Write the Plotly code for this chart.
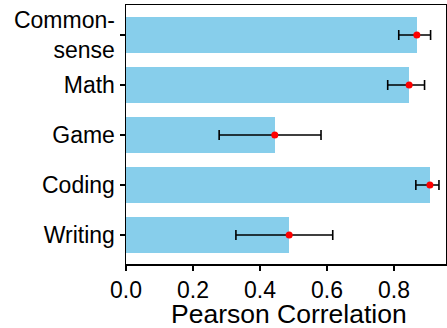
import plotly.graph_objects as go

categories = ["Common-<br>sense", "Math", "Game", "Coding", "Writing"]
values = [0.868, 0.845, 0.444, 0.907, 0.487]
err_low = [0.814, 0.781, 0.278, 0.865, 0.328]
err_high = [0.909, 0.891, 0.582, 0.934, 0.617]
x_ticks = [0.0, 0.2, 0.4, 0.6, 0.8]
x_title = "Pearson Correlation"

ypos = [len(categories) - 1 - i for i in range(len(categories))]
plus = [h - v for h, v in zip(err_high, values)]
minus = [v - l for l, v in zip(err_low, values)]

fig = go.Figure()
fig.add_trace(go.Bar(
    x=values, y=ypos, orientation="h", width=0.72,
    marker=dict(color="#87CEEB", line=dict(width=0)),
    showlegend=False, hoverinfo="skip",
))
fig.add_trace(go.Scatter(
    x=values, y=ypos, mode="markers",
    marker=dict(color="red", size=7),
    error_x=dict(type="data", array=plus, arrayminus=minus, symmetric=False,
                 color="black", thickness=1.6, width=5),
    showlegend=False, cliponaxis=False,
))

font = "Liberation Sans, Arial, sans-serif"
fig.update_layout(
    width=447, height=328,
    margin=dict(l=126, r=1, t=5, b=64, autoexpand=False),
    plot_bgcolor="white", paper_bgcolor="white",
    font=dict(family=font, color="black", size=23),
    bargap=0,
    annotations=[dict(
        text=x_title, xref="paper", yref="paper", x=0.51, y=-0.192,
        xanchor="center", yanchor="middle", showarrow=False,
        font=dict(size=26.5, family=font, color="black"),
    )],
)
fig.update_xaxes(
    range=[0, 0.955], tickvals=x_ticks,
    ticktext=[f"{t:.1f}" for t in x_ticks],
    ticks="outside", ticklen=5, tickwidth=1.2, tickcolor="black",
    showline=True, linecolor="black", linewidth=1.5, mirror=True,
    showgrid=False, zeroline=False, automargin=False,
    tickfont=dict(size=23),
)
fig.update_yaxes(
    range=[-0.58, 4.6], tickvals=ypos, ticktext=categories,
    ticks="outside", ticklen=5, tickwidth=1.2, tickcolor="black",
    showline=True, linecolor="black", linewidth=1.5, mirror=True,
    showgrid=False, zeroline=False, automargin=False,
    tickfont=dict(size=23),
)

fig.write_html(
    "out.html",
    config={"displayModeBar": False, "staticPlot": True},
    post_script="document.body.style.margin='0';document.body.style.overflow='hidden';",
)
